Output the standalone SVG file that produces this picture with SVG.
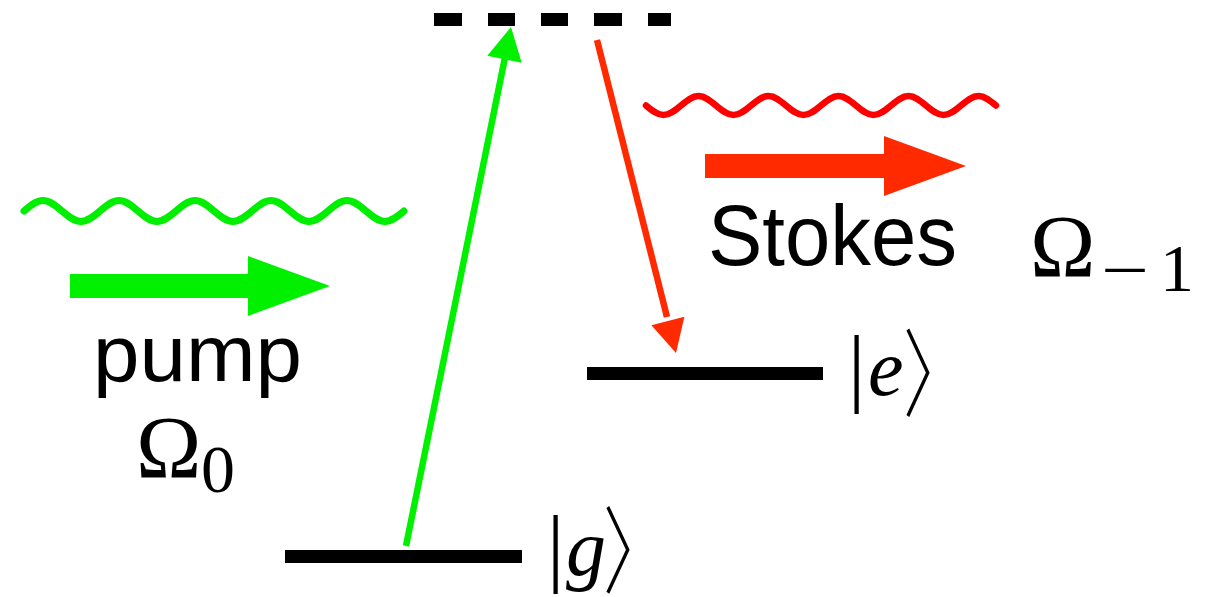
<svg xmlns="http://www.w3.org/2000/svg" width="1216" height="597" viewBox="0 0 1216 597">
<style>
.level{fill:#000}
.sans{font-family:"Liberation Sans",Arial,sans-serif;fill:#000}
.math{font-family:"Liberation Serif","DejaVu Serif",serif;fill:#000}
.bar{font-family:"Liberation Serif","DejaVu Serif",serif;fill:#000;font-size:86px}
.angle{font-family:"Noto Sans CJK JP","DejaVu Serif",sans-serif;font-weight:300;fill:#000;font-size:84px}
.var{font-family:"Liberation Serif","DejaVu Serif",serif;font-style:italic;fill:#000;font-size:80px}
.wave{fill:none;stroke-linecap:round;stroke-linejoin:round}
</style>
<rect width="1216" height="597" fill="#fff"/>
<g id="virtual-level">
<rect x="434" y="13" width="28" height="13" class="level"/>
<rect x="488" y="13" width="27" height="13" class="level"/>
<rect x="541" y="13" width="27" height="13" class="level"/>
<rect x="594" y="13" width="28" height="13" class="level"/>
<rect x="648" y="13" width="23" height="13" class="level"/>
</g>
<g id="level-g">
<rect x="285" y="550" width="237" height="13" class="level"/>
<text class="bar" x="547" y="575">|</text>
<text class="var" x="566" y="575">g</text>
<text class="angle" transform="translate(603 586) scale(0.8 1.13)">〉</text>
</g>
<g id="level-e">
<rect x="587" y="367" width="236" height="13" class="level"/>
<text class="bar" x="848" y="395">|</text>
<text class="var" x="868" y="395">e</text>
<text class="angle" transform="translate(903 409) scale(0.8 1.14)">〉</text>
</g>
<g id="pump">
<path class="wave" stroke="#00ee00" stroke-width="7" d="M24,211 C30.2,205.62 36.12,200.5 43,200.5 S55.8,205.62 62,211 S74.12,221.5 81,221.5 S93.8,216.38 100,211 S112.12,200.5 119,200.5 S131.8,205.62 138,211 S150.12,221.5 157,221.5 S169.8,216.38 176,211 S188.12,200.5 195,200.5 S207.8,205.62 214,211 S226.12,221.5 233,221.5 S245.8,216.38 252,211 S264.12,200.5 271,200.5 S283.8,205.62 290,211 S302.12,221.5 309,221.5 S321.8,216.38 328,211 S340.12,200.5 347,200.5 S359.8,205.62 366,211 S378.12,221.5 385,221.5 S397.8,216.38 404,211"/>
<polygon fill="#00f000" points="70,274 248,274 248,256 330,286 248,316 248,298 70,298"/>
<text class="sans" x="93" y="381" font-size="80" textLength="209" lengthAdjust="spacingAndGlyphs">pump</text>
<text class="math" x="136" y="477" font-size="88">Ω</text>
<text class="math" x="201" y="492" font-size="68">0</text>
</g>
<g id="stokes">
<path class="wave" stroke="#ff0000" stroke-width="6.5" d="M646,105.5 C651.71,110.37 657.17,115 663.5,115 S675.29,110.37 681,105.5 S692.17,96 698.5,96 S710.29,100.63 716,105.5 S727.17,115 733.5,115 S745.29,110.37 751,105.5 S762.17,96 768.5,96 S780.29,100.63 786,105.5 S797.17,115 803.5,115 S815.29,110.37 821,105.5 S832.17,96 838.5,96 S850.29,100.63 856,105.5 S867.17,115 873.5,115 S885.29,110.37 891,105.5 S902.17,96 908.5,96 S920.29,100.63 926,105.5 S937.17,115 943.5,115 S955.29,110.37 961,105.5 S972.17,96 978.5,96 S990.29,100.63 996,105.5"/>
<polygon fill="#ff2a00" points="705,154 884,154 884,136 966,166 884,196 884,178 705,178"/>
<text class="sans" x="708" y="265" font-size="86" textLength="249" lengthAdjust="spacingAndGlyphs">Stokes</text>
<text class="math" x="1030" y="276" font-size="88">Ω</text>
<text class="math" x="1101" y="293" font-size="68" textLength="48" lengthAdjust="spacingAndGlyphs">−</text>
<text class="math" x="1160" y="291" font-size="68">1</text>
</g>
<g id="connectors">
<line x1="406" y1="546" x2="505.5" y2="55" stroke="#00f000" stroke-width="6.5"/>
<polygon fill="#00f000" points="511,27 487.3,55.8 521.7,62.8"/>
<line x1="597" y1="40" x2="667" y2="317" stroke="#ff2a00" stroke-width="6.5"/>
<polygon fill="#ff2a00" points="676,353 651.4,325.2 684.4,316.8"/>
</g>
</svg>
